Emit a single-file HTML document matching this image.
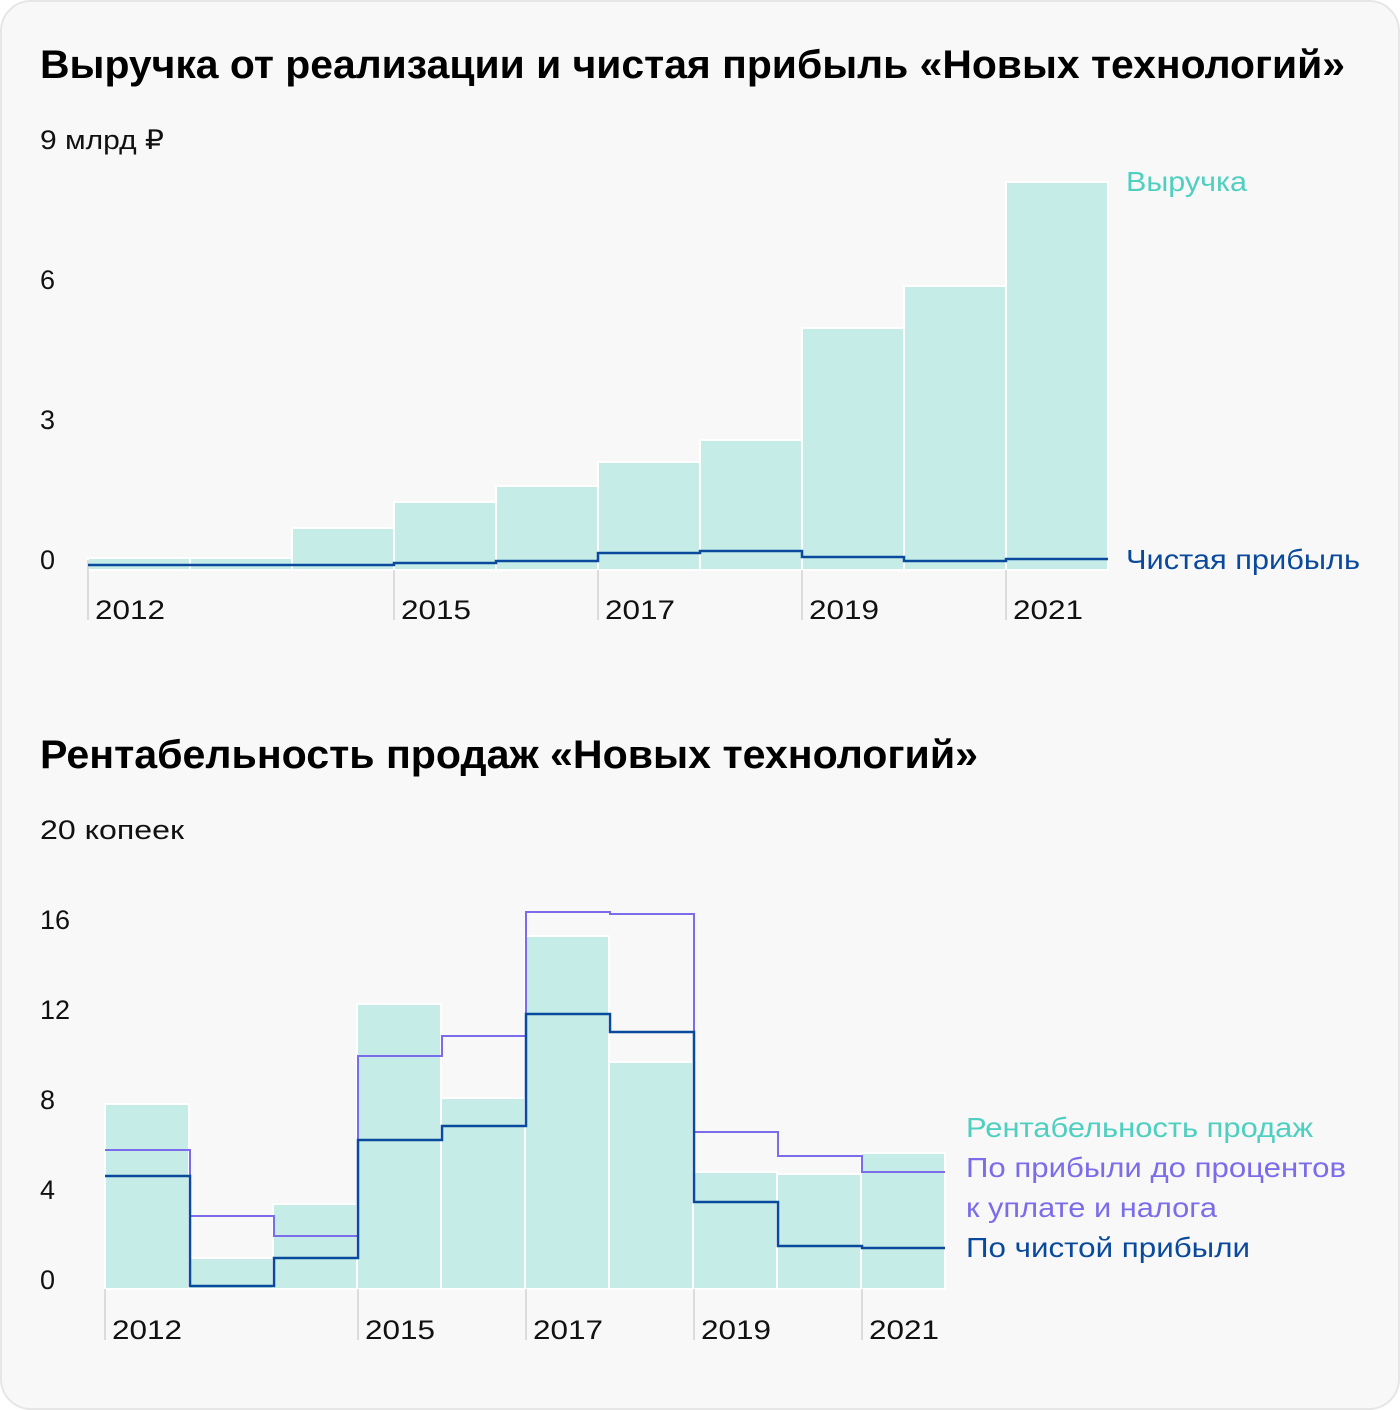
<!DOCTYPE html>
<html><head><meta charset="utf-8"><style>
html,body{margin:0;padding:0;background:#fff;}
svg{display:block;font-family:"Liberation Sans",sans-serif;}
</style></head><body>
<svg width="1400" height="1410" viewBox="0 0 1400 1410" xmlns="http://www.w3.org/2000/svg">
<rect x="1" y="1" width="1398" height="1408" rx="30" fill="#f8f8f8" stroke="#e6e6e6" stroke-width="2"/>
<text x="40" y="78" font-size="40" font-weight="bold" fill="#000" textLength="1305" lengthAdjust="spacingAndGlyphs">Выручка от реализации и чистая прибыль «Новых технологий»</text>
<g font-size="27" fill="#111">
<text x="40" y="149" textLength="124" lengthAdjust="spacingAndGlyphs">9 млрд ₽</text><text x="40" y="289">6</text><text x="40" y="429">3</text><text x="40" y="569">0</text>
</g>
<g fill="#c6ece8" stroke="#fff" stroke-width="2">
<rect x="88" y="558" width="102" height="12"/><rect x="190" y="558" width="102" height="12"/>
<rect x="292" y="528" width="102" height="42"/><rect x="394" y="502" width="102" height="68"/>
<rect x="496" y="486" width="102" height="84"/><rect x="598" y="462" width="102" height="108"/>
<rect x="700" y="440" width="102" height="130"/><rect x="802" y="328" width="102" height="242"/>
<rect x="904" y="286" width="102" height="284"/><rect x="1006" y="182" width="102" height="388"/>
</g>
<g stroke="#dcdcdc" stroke-width="2">
<line x1="88" y1="560" x2="88" y2="620"/><line x1="394" y1="570" x2="394" y2="620"/><line x1="598" y1="570" x2="598" y2="620"/><line x1="802" y1="570" x2="802" y2="620"/><line x1="1006" y1="570" x2="1006" y2="620"/>
</g>
<polyline fill="none" stroke="#0a4a9c" stroke-width="2.5" points="88,565 394,565 394,563 496,563 496,561 598,561 598,553 700,553 700,551 802,551 802,557 904,557 904,561 1006,561 1006,559 1108,559"/>
<g font-size="27" fill="#111">
<text x="95" y="619" textLength="70" lengthAdjust="spacingAndGlyphs">2012</text><text x="401" y="619" textLength="70" lengthAdjust="spacingAndGlyphs">2015</text><text x="605" y="619" textLength="70" lengthAdjust="spacingAndGlyphs">2017</text><text x="809" y="619" textLength="70" lengthAdjust="spacingAndGlyphs">2019</text><text x="1013" y="619" textLength="70" lengthAdjust="spacingAndGlyphs">2021</text>
</g>
<text x="1126" y="191" font-size="28" fill="#4fcfc0" textLength="121" lengthAdjust="spacingAndGlyphs">Выручка</text>
<text x="1126" y="569" font-size="28" fill="#0a4a9c" textLength="234" lengthAdjust="spacingAndGlyphs">Чистая прибыль</text>

<text x="40" y="768" font-size="40" font-weight="bold" fill="#000" textLength="938" lengthAdjust="spacingAndGlyphs">Рентабельность продаж «Новых технологий»</text>
<g font-size="27" fill="#111">
<text x="40" y="839" textLength="144" lengthAdjust="spacingAndGlyphs">20 копеек</text><text x="40" y="929">16</text><text x="40" y="1019">12</text><text x="40" y="1109">8</text><text x="40" y="1199">4</text><text x="40" y="1289">0</text>
</g>
<g fill="#c6ece8" stroke="#fff" stroke-width="2">
<rect x="105" y="1104" width="84" height="185"/><rect x="189" y="1258" width="84" height="31"/>
<rect x="273" y="1204" width="84" height="85"/><rect x="357" y="1004" width="84" height="285"/>
<rect x="441" y="1098" width="84" height="191"/><rect x="525" y="936" width="84" height="353"/>
<rect x="609" y="1062" width="84" height="227"/><rect x="693" y="1172" width="84" height="117"/>
<rect x="777" y="1174" width="84" height="115"/><rect x="861" y="1153" width="84" height="136"/>
</g>
<g stroke="#dcdcdc" stroke-width="2">
<line x1="105" y1="1289" x2="105" y2="1340"/><line x1="358" y1="1289" x2="358" y2="1340"/><line x1="526" y1="1289" x2="526" y2="1340"/><line x1="694" y1="1289" x2="694" y2="1340"/><line x1="862" y1="1289" x2="862" y2="1340"/>
</g>
<polyline fill="none" stroke="#7b6cea" stroke-width="2" points="105,1150 190,1150 190,1216 274,1216 274,1236 358,1236 358,1056 442,1056 442,1036 526,1036 526,912 610,912 610,914 694,914 694,1132 778,1132 778,1156 862,1156 862,1172 945,1172"/>
<polyline fill="none" stroke="#0a4a9c" stroke-width="2.5" points="105,1176 190,1176 190,1286 274,1286 274,1258 358,1258 358,1140 442,1140 442,1126 526,1126 526,1014 610,1014 610,1032 694,1032 694,1202 778,1202 778,1246 862,1246 862,1248 945,1248"/>
<g font-size="27" fill="#111">
<text x="112" y="1339" textLength="70" lengthAdjust="spacingAndGlyphs">2012</text><text x="365" y="1339" textLength="70" lengthAdjust="spacingAndGlyphs">2015</text><text x="533" y="1339" textLength="70" lengthAdjust="spacingAndGlyphs">2017</text><text x="701" y="1339" textLength="70" lengthAdjust="spacingAndGlyphs">2019</text><text x="869" y="1339" textLength="70" lengthAdjust="spacingAndGlyphs">2021</text>
</g>
<g font-size="28">
<text x="966" y="1137" fill="#4fcfc0" textLength="347" lengthAdjust="spacingAndGlyphs">Рентабельность продаж</text>
<text x="966" y="1177" fill="#7b6cea" textLength="380" lengthAdjust="spacingAndGlyphs">По прибыли до процентов</text>
<text x="966" y="1217" fill="#7b6cea" textLength="251" lengthAdjust="spacingAndGlyphs">к уплате и налога</text>
<text x="966" y="1257" fill="#0a4a9c" textLength="284" lengthAdjust="spacingAndGlyphs">По чистой прибыли</text>
</g>
</svg>
</body></html>
